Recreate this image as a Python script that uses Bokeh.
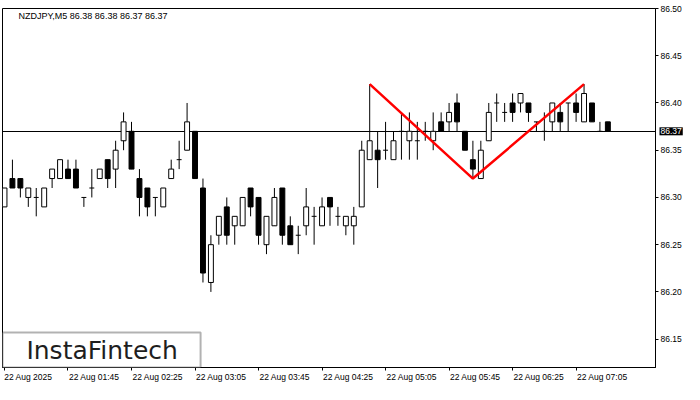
import pandas as pd
from bokeh.plotting import figure
from bokeh.models import (Range1d, LinearAxis, FixedTicker, Label, BoxAnnotation,
                          NumeralTickFormatter, ColumnDataSource)
from bokeh.embed import file_html
from bokeh.resources import INLINE

# ---------------- data ----------------
symbol = "NZDJPY,M5"
bar_times = [t.strftime("%H:%M") for t in pd.date_range("2025-08-22 01:05", periods=77, freq="5min")]

opens = [86.29, 86.32, 86.32, 86.30, 86.30, 86.29, 86.32, 86.32, 86.33, 86.33,
         86.30, 86.31, 86.32, 86.34, 86.33, 86.36, 86.37, 86.32, 86.31, 86.30,
         86.29, 86.32, 86.34, 86.35, 86.37, 86.31, 86.21, 86.26, 86.29, 86.27,
         86.27, 86.31, 86.30, 86.25, 86.27, 86.31, 86.27, 86.26, 86.27, 86.28,
         86.27, 86.30, 86.28, 86.27, 86.27, 86.29, 86.34, 86.35, 86.35, 86.34,
         86.37, 86.36, 86.36, 86.37, 86.36, 86.38, 86.38, 86.40, 86.37, 86.34,
         86.32, 86.36, 86.40, 86.39, 86.40, 86.40, 86.40, 86.38, 86.37, 86.38,
         86.39, 86.40, 86.40, 86.38, 86.40, 86.37, 86.38]
highs = [86.31, 86.34, 86.32, 86.31, 86.31, 86.31, 86.33, 86.34, 86.34, 86.34,
         86.30, 86.33, 86.33, 86.34, 86.36, 86.39, 86.38, 86.33, 86.31, 86.30,
         86.31, 86.34, 86.36, 86.40, 86.37, 86.32, 86.26, 86.28, 86.30, 86.28,
         86.30, 86.31, 86.30, 86.28, 86.31, 86.31, 86.28, 86.27, 86.31, 86.29,
         86.30, 86.30, 86.29, 86.28, 86.29, 86.36, 86.42, 86.37, 86.38, 86.37,
         86.39, 86.39, 86.38, 86.38, 86.39, 86.39, 86.40, 86.41, 86.37, 86.36,
         86.36, 86.40, 86.41, 86.40, 86.41, 86.41, 86.40, 86.38, 86.39, 86.40,
         86.40, 86.40, 86.41, 86.42, 86.40, 86.38, 86.38]
lows = [86.29, 86.31, 86.30, 86.29, 86.28, 86.29, 86.31, 86.32, 86.32, 86.31,
        86.29, 86.30, 86.32, 86.31, 86.31, 86.35, 86.33, 86.28, 86.28, 86.28,
        86.29, 86.32, 86.33, 86.35, 86.32, 86.21, 86.20, 86.25, 86.25, 86.25,
        86.27, 86.28, 86.25, 86.24, 86.27, 86.25, 86.25, 86.24, 86.26, 86.25,
        86.27, 86.27, 86.27, 86.26, 86.25, 86.29, 86.34, 86.31, 86.34, 86.34,
        86.34, 86.34, 86.34, 86.36, 86.35, 86.37, 86.37, 86.37, 86.35, 86.32,
        86.32, 86.36, 86.38, 86.38, 86.38, 86.39, 86.38, 86.37, 86.36, 86.37,
        86.37, 86.37, 86.38, 86.38, 86.38, 86.37, 86.37]
closes = [86.31, 86.31, 86.31, 86.31, 86.30, 86.31, 86.33, 86.34, 86.32, 86.31,
          86.30, 86.31, 86.33, 86.32, 86.35, 86.38, 86.33, 86.30, 86.29, 86.30,
          86.31, 86.33, 86.34, 86.38, 86.32, 86.22, 86.25, 86.28, 86.26, 86.28,
          86.30, 86.29, 86.26, 86.28, 86.30, 86.26, 86.25, 86.26, 86.29, 86.28,
          86.29, 86.29, 86.28, 86.28, 86.28, 86.35, 86.36, 86.34, 86.35, 86.36,
          86.37, 86.37, 86.36, 86.37, 86.37, 86.37, 86.39, 86.38, 86.35, 86.33,
          86.35, 86.39, 86.40, 86.39, 86.39, 86.41, 86.39, 86.38, 86.37, 86.40,
          86.38, 86.40, 86.39, 86.41, 86.38, 86.37, 86.37]

tick_times = ["01:05", "01:45", "02:25", "03:05", "03:45", "04:25", "05:05", "05:45", "06:25", "07:05"]
tick_labels = ["22 Aug 2025", "22 Aug 01:45", "22 Aug 02:25", "22 Aug 03:05", "22 Aug 03:45",
               "22 Aug 04:25", "22 Aug 05:05", "22 Aug 05:45", "22 Aug 06:25", "22 Aug 07:05"]
price_ticks = [86.15, 86.20, 86.25, 86.30, 86.35, 86.40, 86.45, 86.50]
current_price = 86.37

pattern_times = ["04:55", "06:00", "07:10"]
pattern_prices = [86.42, 86.32, 86.42]

logo_text = "InstaFintech"

# ---------------- style ----------------
FONT = "Liberation Sans"
FSIZE = "8.5px"
BODY_W = 0.62
Y0, Y1 = 86.12, 86.50
X0, X1 = -0.25, 82

idx = list(range(len(bar_times)))
pos = {t: i for i, t in enumerate(bar_times)}

p = figure(width=684, height=384, x_range=Range1d(X0, X1), y_range=Range1d(Y0, Y1),
           output_backend="svg", toolbar_location=None,
           x_axis_location=None, y_axis_location=None,
           min_border_left=2, min_border_top=4, min_border_right=0, min_border_bottom=0,
           outline_line_color="black", outline_line_width=1,
           background_fill_color="white", border_fill_color="white")
p.xgrid.visible = False
p.ygrid.visible = False

# right price axis
yaxis = LinearAxis(ticker=FixedTicker(ticks=price_ticks),
                   formatter=NumeralTickFormatter(format="0.00"),
                   major_tick_out=3, major_tick_in=0, minor_tick_out=0, minor_tick_in=0,
                   major_label_standoff=2,
                   axis_line_color="black", major_tick_line_color="black",
                   major_label_text_font=FONT, major_label_text_font_size=FSIZE,
                   major_label_text_color="black")
p.add_layout(yaxis, "right")

# bottom time axis: minor ticks = true tick marks, major (hidden marks) carry left-aligned labels
tick_pos = [pos[t] for t in tick_times]
label_pos = [tp + (3.0 if k == 0 else 3.3) for k, tp in enumerate(tick_pos)]
xaxis = LinearAxis(ticker=FixedTicker(ticks=label_pos, minor_ticks=tick_pos),
                   major_label_overrides={lp: lab for lp, lab in zip(label_pos, tick_labels)},
                   major_tick_out=3, major_tick_in=0, major_tick_line_color=None,
                   minor_tick_out=3, minor_tick_in=0, minor_tick_line_color="black",
                   major_label_standoff=1,
                   axis_line_color="black",
                   major_label_text_font=FONT, major_label_text_font_size=FSIZE,
                   major_label_text_color="black")
p.add_layout(xaxis, "below")

# current price line (behind candles)
p.hspan(y=[current_price], line_color="black", line_width=1)

# wicks
p.segment(x0=idx, y0=lows, x1=idx, y1=highs, line_color="black", line_width=1)

# bodies
body_x, body_top, body_bot, body_fill = [], [], [], []
doji_x, doji_y = [], []
for i, o, c in zip(idx, opens, closes):
    if abs(o - c) < 1e-9:
        doji_x.append(i)
        doji_y.append(o)
    else:
        body_x.append(i)
        body_top.append(max(o, c))
        body_bot.append(min(o, c))
        body_fill.append("white" if c > o else "black")
src = ColumnDataSource(dict(x=body_x, top=body_top, bottom=body_bot, fill=body_fill))
p.vbar(x="x", top="top", bottom="bottom", width=BODY_W, source=src,
       fill_color="fill", line_color="black", line_width=1)
p.segment(x0=[x - BODY_W / 2 for x in doji_x], y0=doji_y,
          x1=[x + BODY_W / 2 for x in doji_x], y1=doji_y,
          line_color="black", line_width=1)

# double top pattern
p.line(x=[pos[t] for t in pattern_times], y=pattern_prices, line_color="#ff0000", line_width=2.5)

# title
title = f"{symbol}  {opens[-1]:.2f} {highs[-1]:.2f} {lows[-1]:.2f} {closes[-1]:.2f}"
p.add_layout(Label(x=X0, y=Y1, x_offset=16, y_offset=-2, text=title,
                   text_font=FONT, text_font_size="9px", text_color="black",
                   text_align="left", text_baseline="top"))

# current price marker over the price axis (hosted in a side panel so it is not clipped)
p.add_layout(Label(x=X1, y=current_price, x_offset=4, text=f"{current_price:.2f}",
                   text_font=FONT, text_font_size=FSIZE, text_color="white",
                   background_fill_color="black", background_fill_alpha=1.0,
                   text_align="left", text_baseline="middle",
                   padding=1), "above")

# logo
p.add_layout(BoxAnnotation(left=None, right=24.7, bottom=None, top=86.157,
                           fill_color="white", fill_alpha=1.0,
                           line_color="black", line_width=2))
p.add_layout(Label(x=12.3, y=86.1385, text=logo_text, text_font="DejaVu Sans",
                   text_font_size="25px", text_color="#1e1e1e",
                   text_align="center", text_baseline="middle"))

open("out.html", "w").write(file_html(p, INLINE))
